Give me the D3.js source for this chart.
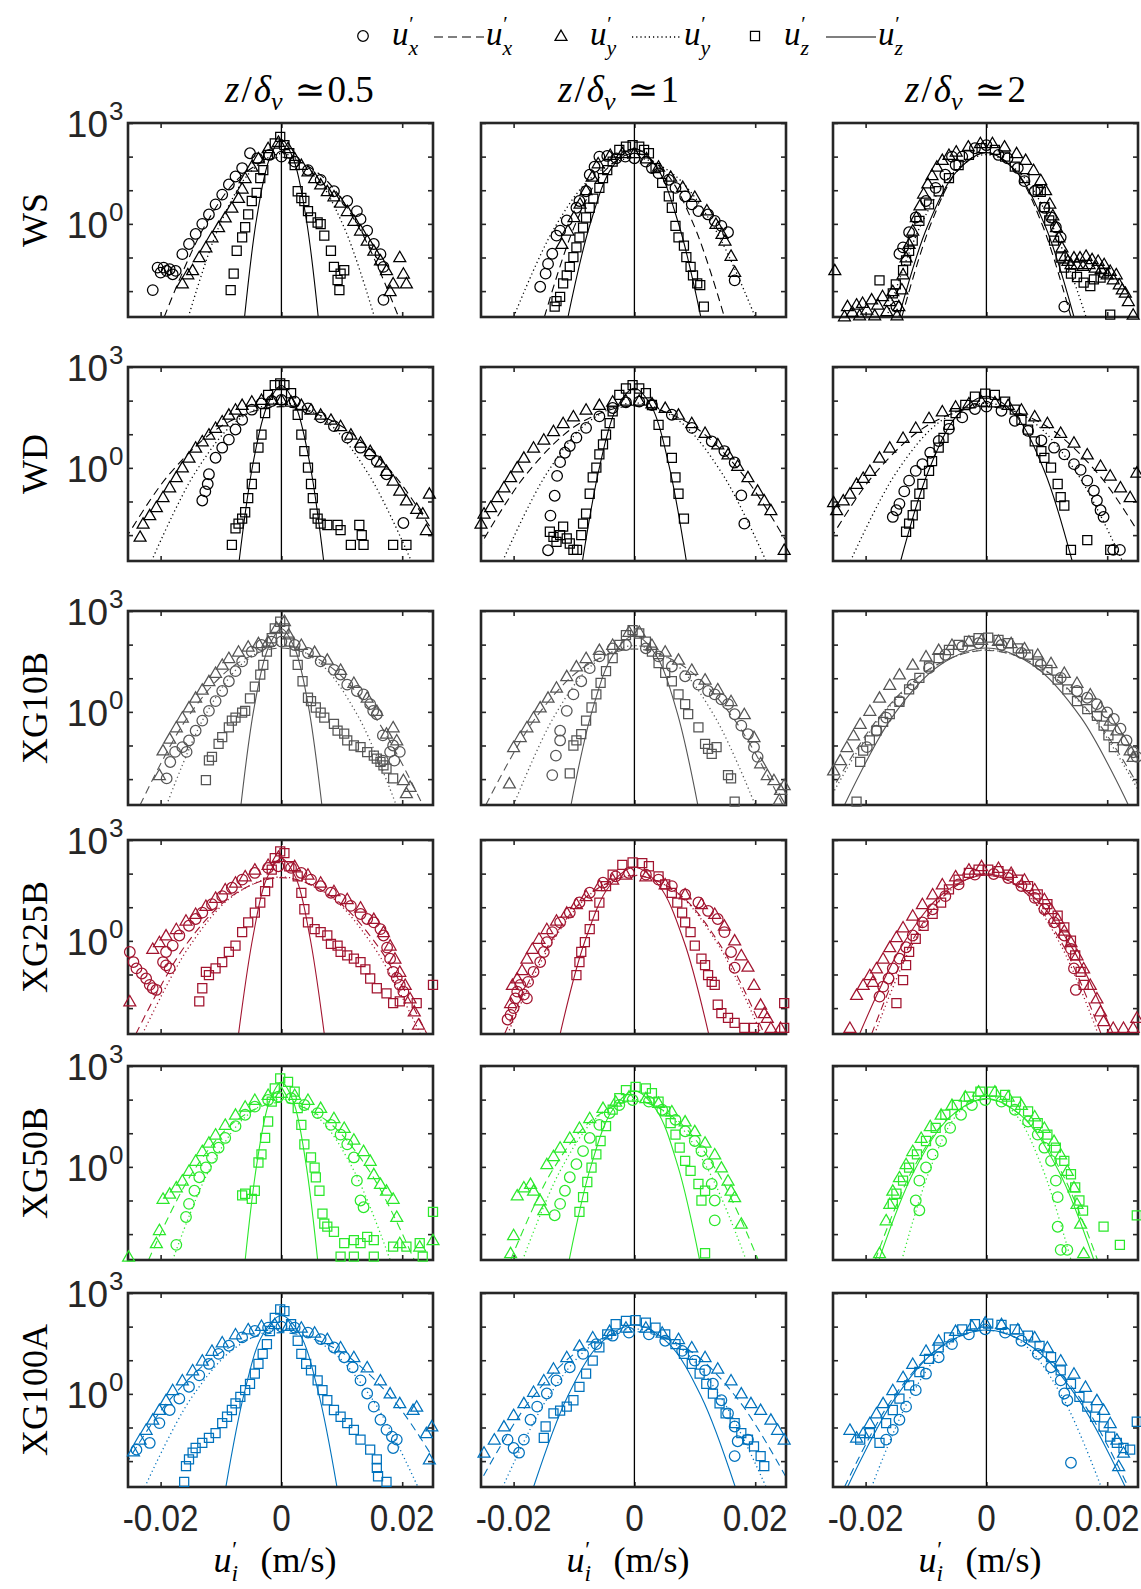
<!DOCTYPE html>
<html><head><meta charset="utf-8">
<script src="https://cdn.jsdelivr.net/npm/d3@7"></script>
<style>body{margin:0;background:#fff}svg{display:block}</style>
</head><body>
<svg id="c" width="1141" height="1589"></svg>
<script>
// ---------- categories / ticks ----------
const rowNames = ["WS","WD","XG10B","XG25B","XG50B","XG100A"];
const colValues = ["0.5","1","2"];
const rowColors = ["#000000","#000000","#555555","#A2142F","#2BE82B","#0072BD"];
const xDomain = [-0.0254, 0.0251];
const yDomainExp = [-2.77, 3];          // log10 of PDF limits
const xTicks = [-0.02, 0, 0.02];
const xTickLabels = ["-0.02","0","0.02"];
const yTickExp = [-2,-1,0,1,2,3];
const yLabelExp = [3,0];

// ---------- data: [u' (m/s), log10 PDF] ----------
// WS
const ws1_ux=[[-.0213,-1.97],[-.0205,-1.3],[-.02,-1.45],[-.0195,-1.3],[-.019,-1.4],[-.0185,-1.35],[-.018,-1.5],[-.0175,-1.4],[-.0164,-0.9],[-.0153,-0.6],[-.0142,-0.3],[-.0131,0],[-.012,0.28],[-.0109,0.58],[-.0098,0.87],[-.0087,1.17],[-.0076,1.41],[-.0065,1.66],[-.0052,2.1],[-.004,1.95],[-.002,2.05],[0,2.0],[.0022,1.85],[.0044,1.6],[.0065,1.31],[.0087,0.97],[.0109,0.68],[.0125,0.38],[.0131,0.14],[.0142,-0.2],[.0153,-0.6],[.0164,-0.9],[.0169,-1.28],[.0169,-2.26]];
const ws1_uy=[[-.0164,-1.77],[-.0155,-1.5],[-.0147,-1.38],[-.0136,-0.99],[-.0125,-0.7],[-.0115,-0.4],[-.0104,-0.1],[-.0093,0.19],[-.0082,0.48],[-.0071,0.77],[-.0065,1.05],[-.006,1.36],[-.0049,1.7],[-.0038,1.95],[-.0022,2.25],[-.0005,2.44],[.0011,2.25],[.0022,1.95],[.0033,1.75],[.0044,1.56],[.0055,1.36],[.0065,1.17],[.0076,0.97],[.0087,0.82],[.0098,0.63],[.0109,0.38],[.012,0.09],[.0131,-0.2],[.0142,-0.5],[.0153,-0.8],[.0164,-1.09],[.0174,-1.38],[.018,-2.0],[.0185,-1.77],[.0196,-0.99],[.0202,-1.48],[.0207,-1.77]];
const ws1_uz=[[-.0084,-1.97],[-.0079,-1.48],[-.0074,-0.8],[-.0065,-0.4],[-.006,-0.1],[-.0055,0.28],[-.0049,0.68],[-.0041,0.92],[-.0035,1.36],[-.003,1.6],[-.0022,2.05],[-.0011,2.39],[-.0002,2.59],[.0005,2.34],[.0013,2.1],[.0022,1.75],[.0027,0.97],[.0033,0.77],[.0038,0.68],[.0044,0.38],[.0049,0.19],[.006,0.04],[.0065,-0.01],[.0071,-0.35],[.0082,-0.8],[.0087,-1.28],[.0093,-1.67],[.0096,-1.97],[.0098,-1.48],[.0104,-1.38]];
const ws2_ux=[[-.0156,-1.87],[-.0147,-1.48],[-.0143,-1.19],[-.0136,-0.89],[-.0129,-0.35],[-.0123,-0.2],[-.0112,0.1],[-.0096,0.48],[-.0091,0.68],[-.008,0.97],[-.0074,1.46],[-.0066,1.7],[-.0058,2.0],[-.0045,2.02],[-.003,1.95],[-.0015,2.0],[0,1.95],[.0019,1.85],[.0029,1.66],[.004,1.5],[.0057,1.31],[.0068,1.07],[.0084,0.82],[.0095,0.58],[.0106,0.38],[.0122,0.28],[.0133,0.09],[.0144,-0.06],[.0155,-0.25],[.0166,-1.68]];
const ws2_uy=[[-.012,-0.6],[-.011,-0.2],[-.01,0.2],[-.009,0.6],[-.008,1.0],[-.007,1.4],[-.006,1.8],[-.004,2.05],[-.002,2.1],[0,2.1],[.002,1.95],[.004,1.7],[.006,1.4],[.008,1.1],[.01,0.8],[.012,0.4],[.0135,0],[.0145,-0.3],[.015,-0.5],[.016,-0.95],[.0166,-1.43]];
const ws2_uz=[[-.0132,-2.46],[-.0129,-2.3],[-.0123,-2.17],[-.0118,-1.77],[-.0112,-1.53],[-.0107,-1.28],[-.0101,-0.99],[-.0096,-0.7],[-.0091,-0.4],[-.0085,-0.11],[-.008,0.19],[-.0074,0.48],[-.0068,0.75],[-.0058,1.07],[-.0052,1.36],[-.0045,1.6],[-.0036,1.85],[-.0025,2.2],[-.0014,2.3],[-.0003,2.34],[.0008,2.3],[.0016,2.2],[.0024,2.1],[.0035,1.66],[.0046,1.22],[.0057,0.82],[.0062,0.48],[.0068,-0.06],[.0073,-0.4],[.0082,-0.65],[.0086,-0.99],[.0093,-1.28],[.0097,-1.53],[.0104,-1.77],[.0109,-1.82],[.0115,-2.46]];
const ws3_ux=[[-.0149,-2.46],[-.0144,-0.89],[-.0138,-0.7],[-.0128,-0.25],[-.0117,0.19],[-.01,0.68],[-.0084,1.07],[-.0068,1.46],[-.0057,2.0],[-.0051,1.75],[-.004,2.0],[-.0019,2.25],[0,2.34],[.002,2.05],[.0035,1.95],[.0052,1.66],[.0063,1.27],[.008,0.97],[.0096,0.48],[.0107,0.19],[.0115,-0.1],[.0123,-0.4],[.0129,-2.46]];
const ws3_uy=[[-.0251,-1.38],[-.0235,-2.75],[-.023,-2.45],[-.0222,-2.62],[-.0215,-2.4],[-.021,-2.72],[-.0205,-2.35],[-.0198,-2.55],[-.019,-2.25],[-.0185,-2.72],[-.018,-2.4],[-.0172,-2.15],[-.0165,-2.6],[-.016,-2.3],[-.0155,-2.0],[-.0148,-2.72],[-.0145,-2.45],[-.014,-1.95],[-.0138,-1.5],[-.0133,-1.0],[-.0128,-0.6],[-.0122,-0.2],[-.0116,0.2],[-.011,0.55],[-.0104,0.9],[-.0097,1.2],[-.009,1.45],[-.0082,1.7],[-.0073,1.9],[-.0062,2.05],[-.005,2.15],[-.003,2.3],[-.001,2.4],[.001,2.4],[.003,2.3],[.005,2.1],[.0065,1.9],[.0078,1.6],[.009,1.3],[.0098,1.0],[.0105,0.6],[.011,0.25],[.0116,-0.1],[.012,-0.4],[.0125,-0.7],[.013,-0.95],[.0135,-1.1],[.014,-1.2],[.0145,-1.0],[.015,-1.2],[.0155,-1.0],[.016,-1.25],[.0165,-0.95],[.017,-1.2],[.0175,-1.05],[.018,-1.3],[.0185,-1.1],[.019,-1.35],[.0195,-1.2],[.02,-1.5],[.0205,-1.4],[.021,-1.65],[.0215,-1.5],[.022,-1.8],[.0225,-1.95],[.023,-2.05],[.0235,-2.3],[.0243,-2.7]];
const ws3_uz=[[-.0177,-1.68],[-.0155,-2.07],[-.015,-1.8],[-.0138,-1.38],[-.0133,-1.09],[-.0128,-0.8],[-.0122,-0.5],[-.0111,0.09],[-.0095,0.58],[-.0079,0.97],[-.0062,1.36],[-.0046,1.75],[-.0029,2.05],[-.0008,2.25],[.0014,2.2],[.0031,2.0],[.0047,1.7],[.0063,1.36],[.0085,1.0],[.009,0.95],[.0096,0.5],[.0104,0.1],[.0112,-0.5],[.0123,-1.0],[.0129,-1.3],[.014,-1.48],[.015,-1.58],[.0161,-1.75],[.0172,-1.85],[.0178,-1.65],[.0189,-1.6],[.0195,-1.45],[.0205,-2.7]];
// WD
const wd1_ux=[[-.0131,-0.97],[-.0126,-0.7],[-.0122,-0.48],[-.012,-0.19],[-.0109,0.3],[-.0098,0.6],[-.0087,0.84],[-.0076,1.14],[-.0065,1.43],[-.0049,1.73],[-.0033,1.92],[-.0016,1.99],[0,2.02],[.0022,1.97],[.0044,1.77],[.0065,1.5],[.0087,1.24],[.0109,0.9],[.0131,0.6],[.0147,0.4],[.0158,0.2],[.0174,-0.19],[.0202,-1.64]];
const wd1_uy=[[-.0234,-2.05],[-.0229,-1.66],[-.0218,-1.41],[-.0207,-1.17],[-.0196,-0.87],[-.0185,-0.58],[-.0174,-0.28],[-.0164,0.01],[-.0153,0.3],[-.0142,0.6],[-.0131,0.79],[-.012,0.99],[-.0109,1.19],[-.0098,1.38],[-.0087,1.58],[-.0076,1.73],[-.0065,1.87],[-.0049,1.97],[-.0033,2.02],[-.0016,2.03],[0,2.02],[.0016,1.97],[.0033,1.87],[.0049,1.73],[.0065,1.58],[.0082,1.43],[.0098,1.24],[.0115,0.99],[.0131,0.75],[.0147,0.5],[.0164,0.16],[.0174,-0.09],[.0185,-0.38],[.0196,-0.68],[.0207,-0.97],[.0224,-1.22],[.0234,-1.36],[.024,-1.85],[.0245,-0.77]];
const wd1_uz=[[-.0082,-2.29],[-.0076,-1.8],[-.0071,-1.66],[-.0065,-1.51],[-.006,-1.32],[-.0055,-0.9],[-.0049,-0.48],[-.0044,0.01],[-.0038,0.6],[-.0033,0.99],[-.0027,1.63],[-.0022,2.17],[-.0011,2.46],[-.0002,2.51],[.0005,2.46],[.0016,2.22],[.0027,1.58],[.0033,0.99],[.0038,0.5],[.0044,0.01],[.0049,-0.48],[.0052,-0.9],[.0055,-1.36],[.006,-1.51],[.0065,-1.66],[.0076,-1.7],[.0093,-1.7],[.0098,-1.85],[.0115,-2.29],[.0129,-1.7],[.0133,-2.0],[.0136,-2.29],[.0185,-2.29],[.0207,-2.29]];
const wd2_ux=[[-.0143,-2.45],[-.0139,-1.42],[-.0132,-0.83],[-.0128,-0.24],[-.0123,0.17],[-.0115,0.45],[-.0107,0.65],[-.0096,0.9],[-.008,1.19],[-.0058,1.53],[-.0036,1.78],[-.0014,1.95],[.0008,1.97],[.0029,1.87],[.0062,1.58],[.0095,1.19],[.0128,0.79],[.0149,0.5],[.0166,0.16],[.0177,-0.82],[.0182,-1.66]];
const wd2_uy=[[-.0254,-1.66],[-.0249,-1.36],[-.0238,-1.17],[-.0227,-0.87],[-.0216,-0.58],[-.0205,-0.28],[-.0194,0.01],[-.0183,0.3],[-.0167,0.6],[-.015,0.84],[-.0134,1.09],[-.0118,1.33],[-.0101,1.53],[-.008,1.73],[-.0058,1.87],[-.0036,1.97],[-.0014,2.0],[.0008,2.0],[.0029,1.92],[.0051,1.78],[.0073,1.58],[.0095,1.33],[.0117,1.04],[.0138,0.7],[.0155,0.4],[.0171,0.06],[.0188,-0.28],[.0204,-0.68],[.0215,-0.97],[.0226,-1.26],[.0248,-2.44]];
const wd2_uz=[[-.014,-1.9],[-.0134,-2.05],[-.0129,-2.2],[-.0123,-2.0],[-.0118,-1.75],[-.0112,-2.1],[-.0107,-2.25],[-.0101,-2.44],[-.0095,-2.44],[-.0088,-2.0],[-.0085,-1.66],[-.008,-1.36],[-.0074,-0.77],[-.0069,-0.28],[-.0063,0.01],[-.0058,0.4],[-.0052,0.7],[-.0047,0.99],[-.0041,1.33],[-.0036,1.68],[-.0025,2.17],[-.0014,2.36],[-.0003,2.46],[.0008,2.36],[.0019,2.22],[.0029,1.87],[.004,1.28],[.0051,0.79],[.0062,0.3],[.0068,-0.28],[.0073,-0.77],[.0082,-1.51]];
const wd3_ux=[[-.0155,-1.46],[-.0149,-1.26],[-.0144,-1.07],[-.0136,-0.7],[-.0128,-0.38],[-.0117,-0.09],[-.0106,0.11],[-.0093,0.45],[-.0079,0.8],[-.0062,1.16],[-.004,1.5],[-.0019,1.75],[0,1.82],[.0025,1.7],[.0047,1.4],[.0069,1.1],[.0091,0.82],[.0112,0.6],[.0129,0.4],[.0145,0.11],[.0156,-0.06],[.0167,-0.38],[.0178,-0.68],[.0183,-0.97],[.0189,-1.26],[.0194,-1.46],[.021,-2.44],[.0221,-2.44]];
const wd3_uy=[[-.0253,-1.02],[-.0248,-1.26],[-.0237,-0.97],[-.0226,-0.77],[-.0215,-0.48],[-.0204,-0.3],[-.0193,-0.09],[-.0177,0.3],[-.016,0.6],[-.0138,0.89],[-.0117,1.19],[-.0095,1.48],[-.0073,1.68],[-.0051,1.82],[-.0029,1.92],[-.0008,1.97],[.0014,1.95],[.0036,1.87],[.0058,1.73],[.008,1.53],[.0101,1.33],[.0123,1.04],[.0145,0.75],[.0167,0.4],[.0189,0.06],[.0205,-0.23],[.0222,-0.58],[.0238,-0.87],[.0249,-0.14]];
const wd3_uz=[[-.0133,-1.9],[-.0128,-1.66],[-.0122,-1.41],[-.0117,-1.12],[-.0111,-0.77],[-.0106,-0.48],[-.0095,-0.09],[-.009,0.2],[-.0079,0.6],[-.0071,0.89],[-.0062,1.28],[-.0051,1.63],[-.0035,1.87],[-.0019,2.12],[-.0002,2.21],[.0014,2.17],[.0031,1.97],[.0047,1.73],[.0058,1.43],[.0069,1.14],[.008,0.79],[.0091,0.5],[.0096,0.3],[.0107,0.01],[.0118,-0.48],[.0123,-0.87],[.0129,-1.12],[.014,-2.44],[.0167,-2.15],[.0205,-2.44]];
// XG10B
const g10_1_ux=[[-.019,-1.98],[-.0184,-1.49],[-.0176,-1.19],[-.0164,-1.05],[-.0157,-1.19],[-.0153,-0.85],[-.0142,-0.56],[-.0131,-0.26],[-.012,0.03],[-.0109,0.32],[-.0098,0.62],[-.0087,0.91],[-.0076,1.21],[-.0065,1.5],[-.0049,1.79],[-.0033,1.99],[-.0016,2.09],[0,2.09],[.0022,1.99],[.0044,1.75],[.0065,1.5],[.0087,1.25],[.0098,1.11],[.0109,0.81],[.0125,0.62],[.0136,0.52],[.0147,0.23],[.0152,0.03],[.0158,-0.07],[.0168,-0.7],[.0168,-1.45],[.018,-1.19],[.0185,-1.0],[.0187,-1.45],[.0196,-1.19]];
const g10_1_uy=[[-.0202,-1.88],[-.0196,-1.15],[-.0185,-0.8],[-.0174,-0.46],[-.0164,-0.17],[-.0153,0.13],[-.0142,0.42],[-.0131,0.66],[-.012,0.91],[-.0109,1.16],[-.0098,1.4],[-.0087,1.6],[-.0071,1.79],[-.0055,1.94],[-.0038,2.04],[-.0022,2.09],[-.0008,2.5],[.0005,2.7],[.0012,2.3],[.0033,1.99],[.0055,1.78],[.0076,1.55],[.0098,1.25],[.012,0.86],[.0142,0.42],[.0158,0.03],[.0174,-0.65],[.0185,-0.46],[.0191,-0.85],[.0202,-2.03],[.0207,-2.42],[.0213,-2.23]];
const g10_1_uz=[[-.0125,-2.03],[-.012,-1.44],[-.0115,-1.34],[-.0104,-0.95],[-.0098,-0.75],[-.0087,-0.46],[-.0082,-0.26],[-.0076,-0.17],[-.0065,-0.02],[-.006,0.03],[-.0052,0.4],[-.0044,0.75],[-.0035,1.11],[-.003,1.4],[-.0024,1.79],[-.0016,2.19],[-.0011,2.48],[-.0002,2.68],[.0005,2.48],[.0013,2.09],[.0022,1.79],[.0027,1.4],[.0035,0.91],[.0044,0.42],[.0049,0.32],[.0057,0.13],[.0065,-0.02],[.0071,-0.17],[.0087,-0.36],[.0093,-0.56],[.0104,-0.65],[.0109,-0.85],[.012,-1.0],[.0131,-1.05],[.0142,-1.2],[.0153,-1.3],[.0158,-1.39],[.0164,-1.49],[.0169,-1.59],[.0174,-1.69],[.0185,-1.98]];
const g10_2_ux=[[-.0136,-1.88],[-.013,-1.3],[-.0123,-0.85],[-.0123,-0.56],[-.0112,0.03],[-.0101,0.52],[-.0088,0.91],[-.0074,1.3],[-.0058,1.65],[-.0036,1.89],[-.0014,1.99],[.0019,1.89],[.004,1.65],[.0062,1.35],[.0084,1.06],[.0106,0.81],[.0122,0.62],[.0133,0.52],[.0144,0.37],[.0155,0.23],[.0166,-0.07],[.0177,-0.41],[.0188,-0.66],[.0198,-1.05],[.0204,-1.34]];
const g10_2_uy=[[-.0207,-2.13],[-.02,-1.05],[-.0189,-0.75],[-.0178,-0.46],[-.0167,-0.17],[-.0156,0.13],[-.0143,0.42],[-.0129,0.72],[-.0112,1.06],[-.0096,1.35],[-.008,1.6],[-.0058,1.84],[-.0036,1.99],[-.0009,2.38],[.0008,2.38],[.0029,1.99],[.0051,1.79],[.0073,1.55],[.0095,1.25],[.0117,0.96],[.0138,0.67],[.016,0.32],[.0182,-0.07],[.0198,-0.75],[.0209,-1.53],[.022,-1.88],[.0231,-2.03],[.024,-2.62],[.0242,-2.32],[.0248,-2.18]];
const g10_2_uz=[[-.0107,-1.83],[-.0101,-1.0],[-.0096,-0.85],[-.0088,-0.66],[-.008,-0.26],[-.0071,0.13],[-.0063,0.52],[-.0056,0.86],[-.0047,1.21],[-.0036,1.6],[-.0025,1.99],[-.0014,2.28],[-.0003,2.43],[.0008,2.33],[.0019,2.09],[.0029,1.79],[.004,1.45],[.0051,1.16],[.0062,0.91],[.0073,0.52],[.0084,0.23],[.0089,-0.07],[.0106,-0.46],[.0117,-0.95],[.0122,-1.1],[.0128,-1.25],[.0136,-1.05],[.0155,-1.88],[.016,-1.98],[.0166,-2.67]];
const g10_3_ux=[[-.0198,-1.05],[-.0182,-0.56],[-.0166,-0.17],[-.0144,0.32],[-.0122,0.81],[-.0095,1.3],[-.0068,1.7],[-.004,1.94],[-.0013,2.04],[.0025,1.99],[.0058,1.75],[.009,1.4],[.0123,1.01],[.015,0.62],[.0167,0.42],[.0183,0.23],[.02,-0.02],[.0211,-0.21],[.0222,-0.5],[.0232,-0.85],[.0243,-1.2],[.0249,-1.34]];
const g10_3_uy=[[-.0253,-1.74],[-.0242,-1.44],[-.0231,-1.05],[-.022,-0.7],[-.0209,-0.36],[-.0193,0.03],[-.0177,0.42],[-.016,0.8],[-.0144,1.11],[-.0122,1.4],[-.01,1.65],[-.0079,1.84],[-.0057,1.99],[-.0029,2.09],[-.0008,2.14],[.002,2.11],[.0041,2.04],[.0063,1.89],[.0085,1.7],[.0107,1.45],[.0129,1.16],[.015,0.86],[.0172,0.52],[.0189,0.13],[.0205,-0.26],[.0216,-0.55],[.0227,-0.85],[.0238,-1.15],[.0243,-1.34]];
const g10_3_uz=[[-.0215,-2.67],[-.0209,-1.49],[-.0204,-1.15],[-.0193,-0.85],[-.0182,-0.56],[-.0171,-0.3],[-.016,-0.07],[-.0144,0.3],[-.0128,0.67],[-.0111,1.01],[-.0095,1.35],[-.0079,1.6],[-.0062,1.84],[-.0046,1.99],[-.0029,2.11],[-.0013,2.19],[.0003,2.21],[.002,2.14],[.0036,2.04],[.0052,1.89],[.0069,1.7],[.0085,1.5],[.0101,1.25],[.0118,0.96],[.0134,0.67],[.015,0.32],[.0167,0.08],[.0183,-0.12],[.0194,-0.41],[.0202,-0.7],[.0211,-1.05]];
// XG25B
const g25_1_ux=[[-.0251,-0.33],[-.0245,-0.63],[-.024,-0.82],[-.0231,-0.97],[-.0224,-1.12],[-.0218,-1.31],[-.0213,-1.41],[-.0207,-1.46],[-.0196,-0.63],[-.0191,-0.73],[-.0185,-0.82],[-.0191,-0.33],[-.018,-0.14],[-.0169,0.16],[-.0153,0.45],[-.0142,0.65],[-.0131,0.84],[-.0115,1.09],[-.0098,1.33],[-.0082,1.58],[-.0065,1.82],[-.0044,2.02],[-.0022,2.17],[-.0005,2.22],[.0016,2.17],[.0033,2.02],[.0049,1.82],[.0065,1.63],[.0082,1.43],[.0098,1.24],[.0115,1.04],[.0131,0.8],[.0142,0.65],[.0153,0.55],[.0164,0.35],[.0169,0.16],[.0175,-0.2],[.018,-0.53],[.0185,-0.92],[.0191,-1.1],[.0196,-1.31],[.0202,-1.51]];
const g25_1_uy=[[-.0251,-1.8],[-.0213,-0.24],[-.0202,-0.04],[-.0191,0.16],[-.0174,0.35],[-.0158,0.6],[-.0142,0.8],[-.0125,1.04],[-.0109,1.28],[-.0093,1.53],[-.0076,1.73],[-.006,1.92],[-.0044,2.12],[-.0022,2.26],[-.0005,2.5],[.0022,2.22],[.0044,1.97],[.0065,1.73],[.0087,1.48],[.0109,1.24],[.0131,0.99],[.0153,0.65],[.0169,0.26],[.018,-0.14],[.0188,-0.53],[.0196,-0.92],[.0205,-1.31],[.0213,-1.71],[.022,-2.1],[.0227,-2.49]];
const g25_1_uz=[[-.0136,-1.8],[-.0131,-1.41],[-.0125,-0.92],[-.012,-1.02],[-.0109,-0.82],[-.0098,-0.63],[-.0087,-0.33],[-.0076,-0.14],[-.0065,0.26],[-.0055,0.55],[-.0044,0.84],[-.0035,1.14],[-.0027,1.48],[-.0022,1.73],[-.0016,2.12],[-.0011,2.46],[-.0002,2.66],[.0005,2.61],[.0013,2.22],[.0027,1.92],[.0033,1.43],[.0038,0.94],[.0044,0.55],[.0055,0.35],[.0065,0.26],[.0076,0.16],[.0082,-0.09],[.0093,-0.14],[.0098,-0.33],[.0109,-0.43],[.012,-0.53],[.0131,-0.63],[.0139,-0.85],[.0147,-1.12],[.0158,-1.41],[.0174,-1.56],[.0185,-1.85],[.0196,-1.8],[.0224,-1.85],[.0251,-1.31]];
const g25_2_ux=[[-.021,-2.34],[-.0205,-2.2],[-.02,-2.0],[-.0197,-1.71],[-.0194,-1.51],[-.0189,-1.31],[-.0183,-1.6],[-.0178,-1.71],[-.0176,-1.22],[-.0167,-0.92],[-.0156,-0.63],[-.015,-0.33],[-.0145,-0.04],[-.0136,0.26],[-.0123,0.55],[-.0107,0.84],[-.0091,1.14],[-.0074,1.43],[-.0052,1.73],[-.0031,1.92],[-.0009,2.02],[.0019,1.97],[.004,1.82],[.0062,1.63],[.0084,1.38],[.0106,1.14],[.0122,0.89],[.0138,0.65],[.0149,0.26],[.016,-0.33],[.0166,-0.8]];
const g25_2_uy=[[-.0205,-1.85],[-.0202,-1.31],[-.0194,-1.12],[-.0186,-0.87],[-.0178,-0.53],[-.0169,-0.24],[-.0158,0.06],[-.0145,0.35],[-.0129,0.6],[-.0112,0.84],[-.0096,1.09],[-.008,1.33],[-.0058,1.63],[-.0036,1.82],[-.0014,1.97],[.0019,1.92],[.0051,1.68],[.0084,1.38],[.0111,1.09],[.0133,0.8],[.0149,0.45],[.0166,0.01],[.0177,-0.43],[.0188,-0.77],[.0198,-1.31],[.0209,-1.9],[.0215,-2.15],[.022,-2.29],[.0226,-2.59],[.0242,-2.59]];
const g25_2_uz=[[-.0096,-1.02],[-.0091,-0.63],[-.0088,-0.33],[-.0082,-0.04],[-.0074,0.35],[-.0067,0.75],[-.0058,1.14],[-.0047,1.63],[-.0036,1.97],[-.002,2.26],[-.0003,2.33],[.0013,2.31],[.0024,2.22],[.004,1.92],[.0051,1.68],[.0062,1.43],[.0071,1.14],[.0079,0.84],[.0084,0.55],[.0093,0.26],[.01,-0.14],[.0111,-0.53],[.0117,-0.72],[.0122,-1.02],[.0128,-1.22],[.0133,-1.31],[.0138,-1.9],[.0144,-2.15],[.0155,-2.29],[.0166,-2.44],[.0182,-2.59],[.0198,-2.59],[.0248,-1.85],[.0248,-2.59]];
const g25_3_ux=[[-.0177,-1.66],[-.0171,-1.36],[-.0162,-1.12],[-.0155,-0.82],[-.0144,-0.53],[-.0133,-0.19],[-.0122,0.16],[-.0106,0.55],[-.0089,0.94],[-.0068,1.33],[-.0046,1.68],[-.0019,1.97],[.0012,1.99],[.0036,1.87],[.0058,1.63],[.008,1.28],[.0096,0.94],[.0112,0.55],[.0129,0.16],[.014,-0.24],[.0145,-0.82],[.0148,-1.46]];
const g25_3_uy=[[-.0226,-2.59],[-.0215,-1.61],[-.0204,-1.31],[-.0193,-1.02],[-.0188,-1.22],[-.0182,-0.82],[-.0171,-0.53],[-.016,-0.19],[-.0149,0.11],[-.0138,0.4],[-.0122,0.75],[-.0106,1.09],[-.0089,1.38],[-.0073,1.68],[-.0051,1.92],[-.0029,2.12],[-.0008,2.22],[.002,2.17],[.0041,2.02],[.0063,1.82],[.008,1.53],[.0096,1.24],[.0107,0.94],[.0118,0.65],[.0129,0.3],[.014,-0.04],[.015,-0.43],[.0161,-0.82],[.0172,-1.31],[.0183,-1.71],[.0189,-2.1],[.0194,-2.39],[.021,-2.59],[.0227,-2.59],[.0243,-2.59],[.0249,-2.29]];
const g25_3_uz=[[-.0149,-1.85],[-.0138,-1.17],[-.0133,-0.72],[-.0128,-0.33],[-.0117,0.06],[-.0104,0.45],[-.0089,0.8],[-.0075,1.14],[-.0062,1.53],[-.0046,1.82],[-.0029,2.02],[-.0013,2.12],[.0003,2.12],[.002,2.07],[.0036,1.97],[.0052,1.82],[.0069,1.63],[.0085,1.38],[.0101,1.09],[.0118,0.75],[.0129,0.4],[.014,0.01],[.0147,-0.43],[.0156,-0.92],[.0161,-1.31]];
// XG50B
const g50_1_ux=[[-.0174,-2.32],[-.0158,-1.49],[-.0153,-1.1],[-.0144,-0.71],[-.0136,-0.31],[-.0125,-0.02],[-.0115,0.27],[-.0104,0.57],[-.0093,0.86],[-.0076,1.21],[-.006,1.55],[-.0044,1.79],[-.0022,1.99],[-.0005,2.09],[.0016,2.04],[.0038,1.84],[.006,1.6],[.0082,1.25],[.0098,0.96],[.0109,0.67],[.012,0.28],[.0125,-0.41],[.0131,-1.0],[.0136,-1.2]];
const g50_1_uy=[[-.0253,-2.67],[-.0207,-2.27],[-.0202,-1.88],[-.0196,-0.95],[-.0185,-0.8],[-.0174,-0.61],[-.0164,-0.41],[-.0153,-0.12],[-.0142,0.18],[-.0131,0.47],[-.012,0.72],[-.0109,0.96],[-.0093,1.25],[-.0076,1.55],[-.006,1.79],[-.0044,1.99],[-.0022,2.14],[0,2.2],[.0022,2.14],[.0044,1.99],[.0065,1.75],[.0087,1.45],[.0104,1.16],[.012,0.81],[.0136,0.47],[.0147,0.18],[.0153,-0.22],[.0164,-0.51],[.0174,-0.71],[.0185,-0.95],[.0191,-1.49],[.0196,-2.27],[.0229,-2.37],[.0251,-2.18]];
const g50_1_uz=[[-.0065,-0.85],[-.006,-0.8],[-.0049,-0.95],[-.0044,-0.71],[-.0038,0.13],[-.0033,0.37],[-.0027,0.86],[-.0022,1.35],[-.0016,1.94],[-.0011,2.33],[-.0002,2.63],[.0011,2.53],[.0022,2.24],[.0027,1.75],[.0033,1.25],[.0038,0.67],[.0049,0.28],[.0055,-0.02],[.0057,-0.31],[.0063,-0.71],[.0068,-1.39],[.0071,-1.69],[.0076,-1.78],[.0087,-1.93],[.0098,-2.67],[.0104,-2.27],[.012,-2.18],[.012,-2.67],[.0131,-2.27],[.0142,-2.08],[.0153,-2.18],[.0153,-2.67],[.0185,-2.37],[.0207,-2.37],[.0229,-2.27],[.0234,-2.67],[.0251,-1.34]];
const g50_2_ux=[[-.0132,-1.44],[-.0123,-1.1],[-.0115,-0.71],[-.0107,-0.31],[-.0096,0.08],[-.0085,0.47],[-.0074,0.86],[-.0058,1.25],[-.0041,1.6],[-.0025,1.84],[-.0003,1.99],[.0024,1.94],[.0046,1.7],[.0068,1.4],[.0084,1.06],[.01,0.77],[.0111,0.47],[.0122,0.08],[.0128,-0.51],[.0133,-1.0],[.0133,-1.59]];
const g50_2_uy=[[-.0205,-2.57],[-.02,-2.03],[-.0194,-0.85],[-.0183,-0.61],[-.0172,-0.51],[-.0167,-0.71],[-.0156,-1.0],[-.015,-1.29],[-.0145,0.08],[-.0134,0.32],[-.0123,0.57],[-.0107,0.86],[-.0091,1.16],[-.0074,1.45],[-.0052,1.75],[-.0031,1.94],[-.0009,2.09],[.0019,2.04],[.004,1.9],[.0062,1.65],[.0084,1.35],[.01,1.06],[.0117,0.72],[.0133,0.37],[.0144,-0.02],[.0155,-0.41],[.016,-0.71],[.0166,-0.9],[.0177,-1.69]];
const g50_2_uz=[[-.0091,-1.34],[-.0085,-0.9],[-.0078,-0.45],[-.0071,-0.02],[-.0063,0.37],[-.0056,0.77],[-.0047,1.21],[-.0036,1.7],[-.0025,2.04],[-.0014,2.28],[.0002,2.38],[.0019,2.33],[.0029,2.19],[.004,1.94],[.0051,1.65],[.006,1.3],[.0068,0.96],[.0075,0.57],[.0084,0.18],[.0093,-0.12],[.0106,-0.51],[.0111,-1.0],[.0117,-0.71],[.0117,-2.57]];
const g50_3_ux=[[-.0111,-1.29],[-.0117,-1.0],[-.0111,-0.41],[-.01,-0.02],[-.0089,0.37],[-.0075,0.77],[-.006,1.16],[-.0042,1.55],[-.0024,1.84],[-.0002,1.99],[.0025,1.94],[.0047,1.7],[.0069,1.35],[.0085,0.96],[.0096,0.57],[.0107,0.18],[.0115,-0.41],[.0118,-0.9],[.0118,-1.78],[.0123,-2.47],[.0134,-2.47]];
const g50_3_uy=[[-.0177,-2.57],[-.0166,-1.59],[-.016,-1.1],[-.0155,-0.71],[-.0144,-0.31],[-.0133,0.08],[-.0122,0.47],[-.0108,0.86],[-.0093,1.21],[-.0075,1.55],[-.0057,1.84],[-.0035,2.09],[-.0013,2.24],[.0014,2.24],[.0036,2.09],[.0058,1.84],[.008,1.5],[.0096,1.16],[.0112,0.77],[.0123,0.37],[.0134,-0.12],[.0145,-0.61],[.015,-1.1],[.0156,-1.69],[.0161,-2.57]];
const g50_3_uz=[[-.0155,-1.1],[-.0149,-0.8],[-.0138,-0.41],[-.0128,-0.02],[-.0115,0.37],[-.01,0.77],[-.0084,1.16],[-.0068,1.55],[-.0049,1.84],[-.0029,2.09],[-.001,2.24],[.0009,2.24],[.0031,2.14],[.0049,1.94],[.0069,1.65],[.0085,1.3],[.0101,0.96],[.0115,0.57],[.0129,0.18],[.014,-0.22],[.0147,-0.61],[.0154,-1.0],[.016,-1.3],[.0194,-1.78],[.0221,-2.32],[.0249,-1.44]];
// XG100A
const g100_1_ux=[[-.024,-1.66],[-.0218,-1.46],[-.0202,-0.87],[-.0185,-0.48],[-.0169,-0.14],[-.0153,0.21],[-.0136,0.55],[-.012,0.89],[-.0104,1.19],[-.0087,1.43],[-.0065,1.68],[-.0044,1.87],[-.0022,1.97],[0,2.0],[.0022,1.97],[.0044,1.82],[.0065,1.63],[.0087,1.38],[.0104,1.09],[.0118,0.79],[.0131,0.4],[.0142,0.01],[.0153,-0.38],[.0164,-0.77],[.0174,-1.07],[.0183,-1.27],[.0185,-1.61],[.0191,-1.36]];
const g100_1_uy=[[-.0245,-1.71],[-.0234,-1.36],[-.0224,-1.07],[-.0213,-0.77],[-.0202,-0.48],[-.0191,-0.19],[-.018,0.11],[-.0164,0.4],[-.0147,0.7],[-.0131,0.99],[-.0115,1.28],[-.0098,1.53],[-.0076,1.77],[-.0055,1.92],[-.0033,2.02],[-.0011,2.07],[.0011,2.02],[.0033,1.97],[.0055,1.82],[.0076,1.63],[.0098,1.38],[.012,1.09],[.0142,0.79],[.0164,0.4],[.018,0.01],[.0196,-0.28],[.0218,-0.48],[.0224,-0.38],[.024,-1.17],[.0245,-1.95],[.0249,-0.97]];
const g100_1_uz=[[-.0161,-2.62],[-.0158,-2.15],[-.0153,-1.95],[-.0147,-1.75],[-.0142,-1.61],[-.0131,-1.46],[-.012,-1.31],[-.0109,-1.17],[-.0098,-0.87],[-.009,-0.68],[-.0082,-0.48],[-.0076,-0.28],[-.0068,-0.09],[-.006,0.11],[-.0052,0.3],[-.0044,0.6],[-.0038,0.89],[-.0031,1.19],[-.0024,1.48],[-.0019,1.87],[-.0011,2.26],[-.0002,2.51],[.0005,2.46],[.0016,2.07],[.0027,1.58],[.0033,1.19],[.0041,0.89],[.0049,0.7],[.006,0.4],[.0068,0.11],[.0076,-0.19],[.0087,-0.48],[.0098,-0.68],[.0109,-0.87],[.012,-1.07],[.0131,-1.36],[.0147,-1.66],[.0158,-1.95],[.0158,-2.2],[.016,-2.45],[.0174,-2.62]];
const g100_2_ux=[[-.021,-1.36],[-.02,-1.61],[-.0191,-1.75],[-.0183,-1.36],[-.0172,-0.77],[-.0161,-0.38],[-.0145,0.01],[-.0129,0.4],[-.0107,0.79],[-.0085,1.19],[-.0063,1.48],[-.0036,1.73],[-.0009,1.82],[.0024,1.77],[.0051,1.58],[.0079,1.28],[.01,0.99],[.0117,0.7],[.013,0.3],[.0144,-0.19],[.0155,-0.58],[.0166,-0.97],[.0171,-1.41],[.0166,-1.85],[.0188,-1.36]];
const g100_2_uy=[[-.0249,-1.75],[-.0232,-1.36],[-.0216,-0.97],[-.02,-0.63],[-.0183,-0.28],[-.0167,0.06],[-.015,0.4],[-.0134,0.75],[-.0112,1.09],[-.0091,1.43],[-.0069,1.68],[-.0041,1.87],[-.0014,1.97],[.0019,1.97],[.0046,1.82],[.0073,1.63],[.0095,1.38],[.0117,1.09],[.0138,0.75],[.016,0.4],[.0177,0.01],[.0193,-0.28],[.0209,-0.48],[.0226,-0.77],[.0237,-1.07],[.0248,-1.36]];
const g100_2_uz=[[-.015,-1.31],[-.0147,-0.97],[-.0134,-0.58],[-.0123,-0.5],[-.0112,-0.38],[-.0101,-0.19],[-.0091,0.21],[-.008,0.6],[-.0069,0.99],[-.0058,1.38],[-.0045,1.77],[-.0031,2.07],[-.0014,2.17],[.0002,2.19],[.0019,2.12],[.0035,1.97],[.0051,1.77],[.0068,1.48],[.0082,1.19],[.0095,0.89],[.0108,0.6],[.0119,0.3],[.013,0.01],[.0141,-0.28],[.0151,-0.58],[.0166,-0.87],[.0177,-1.17],[.0188,-1.36],[.0198,-1.56],[.0209,-1.85],[.0215,-2.15]];
const g100_3_ux=[[-.0166,-1.36],[-.0155,-1.07],[-.0144,-0.77],[-.0133,-0.38],[-.0117,0.11],[-.01,0.6],[-.0079,1.09],[-.0057,1.48],[-.0029,1.77],[-.0002,1.92],[.0031,1.82],[.0058,1.58],[.0085,1.19],[.0107,0.79],[.0123,0.4],[.0129,0.01],[.0134,-0.19],[.014,-2.05]];
const g100_3_uy=[[-.0226,-1.07],[-.0215,-1.3],[-.0204,-1.17],[-.0193,-0.87],[-.0182,-0.58],[-.0171,-0.28],[-.0155,0.11],[-.0138,0.5],[-.0122,0.89],[-.01,1.28],[-.0079,1.58],[-.0051,1.87],[-.0024,2.02],[-.0002,2.12],[.0025,2.07],[.0052,1.92],[.008,1.68],[.0101,1.38],[.0123,0.99],[.0145,0.6],[.0164,0.21],[.0183,-0.19],[.0194,-0.48],[.0205,-0.87],[.0216,-1.36],[.0227,-1.75],[.0219,-2.15]];
const g100_3_uz=[[-.0209,-1.36],[-.0193,-1.17],[-.0177,-1.46],[-.0166,-0.87],[-.0155,-0.48],[-.0144,-0.14],[-.0128,0.25],[-.0111,0.65],[-.0095,1.04],[-.0079,1.38],[-.0062,1.68],[-.004,1.92],[-.0019,2.07],[.0003,2.09],[.0025,2.05],[.0047,1.92],[.0069,1.73],[.0088,1.43],[.0107,1.09],[.0123,0.7],[.014,0.3],[.0154,-0.09],[.0167,-0.38],[.018,-0.68],[.0194,-0.97],[.0205,-1.27],[.0216,-1.46],[.0227,-1.61],[.0238,-1.66],[.0249,-0.83]];

// ---------- Gaussian reference curves: [u', log10 PDF] ----------
const ws1_fx=[[-.0194,-2.77],[-.0129,-.13],[-.0065,1.45],[0,1.98],[.0065,1.45],[.0129,-.13],[.0194,-2.77]];
const ws1_fy=[[-.0154,-2.77],[-.0103,-.07],[-.0051,1.55],[0,2.09],[.0051,1.55],[.0103,-.07],[.0154,-2.77]];
const ws1_fz=[[-.0061,-2.77],[-.0041,.16],[-.002,1.92],[0,2.51],[.002,1.92],[.0041,.16],[.0061,-2.77]];
const ws2_fx=[[-.0149,-2.77],[-.0099,-.06],[-.005,1.56],[0,2.10],[.005,1.56],[.0099,-.06],[.0149,-2.77]];
const ws2_fy=[[-.020,-2.77],[-.0133,-.14],[-.0067,1.44],[0,1.97],[.0067,1.44],[.0133,-.14],[.020,-2.77]];
const ws2_fz=[[-.011,-2.77],[-.0073,.01],[-.0037,1.68],[0,2.24],[.0037,1.68],[.0073,.01],[.011,-2.77]];
const ws3_fx=[[-.014,-2.77],[-.0093,-.05],[-.0047,1.59],[0,2.13],[.0047,1.59],[.0093,-.05],[.014,-2.77]];
const ws3_fy=[[-.0165,-2.77],[-.011,-.09],[-.0055,1.52],[0,2.06],[.0055,1.52],[.011,-.09],[.0165,-2.77]];
const ws3_fz=[[-.0145,-2.77],[-.0097,-.05],[-.0048,1.58],[0,2.12],[.0048,1.58],[.0097,-.05],[.0145,-2.77]];
const wd1_fx=[[-.028,-2.77],[-.0187,-.22],[-.0093,1.31],[0,1.82],[.0093,1.31],[.0187,-.22],[.028,-2.77]];
const wd1_fy=[[-.0215,-2.77],[-.0143,-.15],[-.0072,1.42],[0,1.94],[.0072,1.42],[.0143,-.15],[.0215,-2.77]];
const wd1_fz=[[-.007,-2.77],[-.0047,.13],[-.0023,1.87],[0,2.45],[.0023,1.87],[.0047,.13],[.007,-2.77]];
const wd2_fx=[[-.027,-2.77],[-.018,-.21],[-.009,1.33],[0,1.84],[.009,1.33],[.018,-.21],[.027,-2.77]];
const wd2_fy=[[-.0218,-2.77],[-.0145,-.16],[-.0073,1.41],[0,1.93],[.0073,1.41],[.0145,-.16],[.0218,-2.77]];
const wd2_fz=[[-.0086,-2.77],[-.0057,.09],[-.0029,1.8],[0,2.37],[.0029,1.8],[.0057,.09],[.0086,-2.77]];
const wd3_fx=[[-.028,-2.77],[-.0187,-.22],[-.0093,1.31],[0,1.82],[.0093,1.31],[.0187,-.22],[.028,-2.77]];
const wd3_fy=[[-.0225,-2.77],[-.015,-.16],[-.0075,1.4],[0,1.92],[.0075,1.4],[.015,-.16],[.0225,-2.77]];
const wd3_fz=[[-.0142,-2.77],[-.0095,-.05],[-.0047,1.59],[0,2.13],[.0047,1.59],[.0095,-.05],[.0142,-2.77]];
const g10_1_fx=[[-.0234,-2.77],[-.0156,-.18],[-.0078,1.38],[0,1.90],[.0078,1.38],[.0156,-.18],[.0234,-2.77]];
const g10_1_fy=[[-.019,-2.77],[-.0127,-.13],[-.0063,1.46],[0,1.99],[.0063,1.46],[.0127,-.13],[.019,-2.77]];
const g10_1_fz=[[-.0067,-2.77],[-.0045,.14],[-.0022,1.89],[0,2.47],[.0022,1.89],[.0045,.14],[.0067,-2.77]];
const g10_2_fx=[[-.0246,-2.77],[-.0164,-.19],[-.0082,1.35],[0,1.87],[.0082,1.35],[.0164,-.19],[.0246,-2.77]];
const g10_2_fy=[[-.020,-2.77],[-.0133,-.14],[-.0067,1.44],[0,1.97],[.0067,1.44],[.0133,-.14],[.020,-2.77]];
const g10_2_fz=[[-.0105,-2.77],[-.007,.03],[-.0035,1.71],[0,2.27],[.0035,1.71],[.007,.03],[.0105,-2.77]];
const g10_3_fx=[[-.027,-2.77],[-.018,-.21],[-.009,1.32],[0,1.83],[.009,1.32],[.018,-.21],[.027,-2.77]];
const g10_3_fy=[[-.0265,-2.77],[-.0177,-.2],[-.0088,1.33],[0,1.84],[.0088,1.33],[.0177,-.2],[.0265,-2.77]];
const g10_3_fz=[[-.0235,-2.77],[-.0157,-.18],[-.0078,1.38],[0,1.90],[.0078,1.38],[.0157,-.18],[.0235,-2.77]];
const g25_1_fx=[[-.0241,-2.77],[-.0161,-.19],[-.008,1.36],[0,1.88],[.008,1.36],[.0161,-.19],[.0241,-2.77]];
const g25_1_fy=[[-.023,-2.77],[-.0153,-.18],[-.0077,1.38],[0,1.90],[.0077,1.38],[.0153,-.18],[.023,-2.77]];
const g25_1_fz=[[-.0071,-2.77],[-.0047,.13],[-.0024,1.87],[0,2.45],[.0024,1.87],[.0047,.13],[.0071,-2.77]];
const g25_2_fx=[[-.0215,-2.77],[-.0143,-.15],[-.0072,1.42],[0,1.94],[.0072,1.42],[.0143,-.15],[.0215,-2.77]];
const g25_2_fy=[[-.021,-2.77],[-.014,-.15],[-.007,1.43],[0,1.95],[.007,1.43],[.014,-.15],[.021,-2.77]];
const g25_2_fz=[[-.0123,-2.77],[-.0082,-.01],[-.0041,1.64],[0,2.19],[.0041,1.64],[.0082,-.01],[.0123,-2.77]];
const g25_3_fx=[[-.019,-2.77],[-.0127,-.13],[-.0063,1.46],[0,1.99],[.0063,1.46],[.0127,-.13],[.019,-2.77]];
const g25_3_fy=[[-.0185,-2.77],[-.0123,-.12],[-.0062,1.47],[0,2.0],[.0062,1.47],[.0123,-.12],[.0185,-2.77]];
const g25_3_fz=[[-.021,-2.77],[-.014,-.15],[-.007,1.43],[0,1.95],[.007,1.43],[.014,-.15],[.021,-2.77]];
const g50_1_fx=[[-.022,-2.77],[-.0147,-.16],[-.0073,1.4],[0,1.92],[.0073,1.4],[.0147,-.16],[.022,-2.77]];
const g50_1_fy=[[-.018,-2.77],[-.012,-.11],[-.006,1.48],[0,2.01],[.006,1.48],[.012,-.11],[.018,-2.77]];
const g50_1_fz=[[-.006,-2.77],[-.004,.17],[-.002,1.93],[0,2.52],[.002,1.93],[.004,.17],[.006,-2.77]];
const g50_2_fx=[[-.0205,-2.77],[-.0137,-.14],[-.0068,1.43],[0,1.96],[.0068,1.43],[.0137,-.14],[.0205,-2.77]];
const g50_2_fy=[[-.0185,-2.77],[-.0123,-.12],[-.0062,1.47],[0,2.0],[.0062,1.47],[.0123,-.12],[.0185,-2.77]];
const g50_2_fz=[[-.0108,-2.77],[-.0072,.02],[-.0036,1.7],[0,2.26],[.0036,1.7],[.0072,.02],[.0108,-2.77]];
const g50_3_fx=[[-.0184,-2.77],[-.0123,-.11],[-.0061,1.48],[0,2.01],[.0061,1.48],[.0123,-.11],[.0184,-2.77]];
const g50_3_fy=[[-.014,-2.77],[-.0093,-.05],[-.0047,1.59],[0,2.13],[.0047,1.59],[.0093,-.05],[.014,-2.77]];
const g50_3_fz=[[-.0178,-2.77],[-.0119,-.1],[-.0059,1.5],[0,2.03],[.0059,1.5],[.0119,-.1],[.0178,-2.77]];
const g100_1_fx=[[-.028,-2.77],[-.0187,-.22],[-.0093,1.31],[0,1.82],[.0093,1.31],[.0187,-.22],[.028,-2.77]];
const g100_1_fy=[[-.0226,-2.77],[-.0151,-.17],[-.0075,1.39],[0,1.91],[.0075,1.39],[.0151,-.17],[.0226,-2.77]];
const g100_1_fz=[[-.0092,-2.77],[-.0061,.06],[-.0031,1.76],[0,2.33],[.0031,1.76],[.0061,.06],[.0092,-2.77]];
const g100_2_fx=[[-.026,-2.77],[-.0173,-.2],[-.0087,1.34],[0,1.85],[.0087,1.34],[.0173,-.2],[.026,-2.77]];
const g100_2_fy=[[-.0218,-2.77],[-.0145,-.16],[-.0073,1.41],[0,1.93],[.0073,1.41],[.0145,-.16],[.0218,-2.77]];
const g100_2_fz=[[-.0167,-2.77],[-.0111,-.09],[-.0056,1.51],[0,2.05],[.0056,1.51],[.0111,-.09],[.0167,-2.77]];
const g100_3_fx=[[-.0235,-2.77],[-.0157,-.18],[-.0078,1.37],[0,1.89],[.0078,1.37],[.0157,-.18],[.0235,-2.77]];
const g100_3_fy=[[-.019,-2.77],[-.0127,-.13],[-.0063,1.46],[0,1.99],[.0063,1.46],[.0127,-.13],[.019,-2.77]];
const g100_3_fz=[[-.023,-2.77],[-.0153,-.18],[-.0077,1.38],[0,1.90],[.0077,1.38],[.0153,-.18],[.023,-2.77]];

// ---------- table built from the arrays ----------
const panels = [
 [{ux:ws1_ux,uy:ws1_uy,uz:ws1_uz,fx:ws1_fx,fy:ws1_fy,fz:ws1_fz},{ux:ws2_ux,uy:ws2_uy,uz:ws2_uz,fx:ws2_fx,fy:ws2_fy,fz:ws2_fz},{ux:ws3_ux,uy:ws3_uy,uz:ws3_uz,fx:ws3_fx,fy:ws3_fy,fz:ws3_fz}],
 [{ux:wd1_ux,uy:wd1_uy,uz:wd1_uz,fx:wd1_fx,fy:wd1_fy,fz:wd1_fz},{ux:wd2_ux,uy:wd2_uy,uz:wd2_uz,fx:wd2_fx,fy:wd2_fy,fz:wd2_fz},{ux:wd3_ux,uy:wd3_uy,uz:wd3_uz,fx:wd3_fx,fy:wd3_fy,fz:wd3_fz}],
 [{ux:g10_1_ux,uy:g10_1_uy,uz:g10_1_uz,fx:g10_1_fx,fy:g10_1_fy,fz:g10_1_fz},{ux:g10_2_ux,uy:g10_2_uy,uz:g10_2_uz,fx:g10_2_fx,fy:g10_2_fy,fz:g10_2_fz},{ux:g10_3_ux,uy:g10_3_uy,uz:g10_3_uz,fx:g10_3_fx,fy:g10_3_fy,fz:g10_3_fz}],
 [{ux:g25_1_ux,uy:g25_1_uy,uz:g25_1_uz,fx:g25_1_fx,fy:g25_1_fy,fz:g25_1_fz},{ux:g25_2_ux,uy:g25_2_uy,uz:g25_2_uz,fx:g25_2_fx,fy:g25_2_fy,fz:g25_2_fz},{ux:g25_3_ux,uy:g25_3_uy,uz:g25_3_uz,fx:g25_3_fx,fy:g25_3_fy,fz:g25_3_fz}],
 [{ux:g50_1_ux,uy:g50_1_uy,uz:g50_1_uz,fx:g50_1_fx,fy:g50_1_fy,fz:g50_1_fz},{ux:g50_2_ux,uy:g50_2_uy,uz:g50_2_uz,fx:g50_2_fx,fy:g50_2_fy,fz:g50_2_fz},{ux:g50_3_ux,uy:g50_3_uy,uz:g50_3_uz,fx:g50_3_fx,fy:g50_3_fy,fz:g50_3_fz}],
 [{ux:g100_1_ux,uy:g100_1_uy,uz:g100_1_uz,fx:g100_1_fx,fy:g100_1_fy,fz:g100_1_fz},{ux:g100_2_ux,uy:g100_2_uy,uz:g100_2_uz,fx:g100_2_fx,fy:g100_2_fy,fz:g100_2_fz},{ux:g100_3_ux,uy:g100_3_uy,uz:g100_3_uz,fx:g100_3_fx,fy:g100_3_fy,fz:g100_3_fz}]
];

// ---------- layout ----------
const colLeft = [128, 481, 833], panelW = 305;
const rowTop = [123, 367, 611, 840, 1066, 1293], panelH = 194;
const frameColor = "#262626";
const serif = "'Liberation Serif','DejaVu Serif',serif";
const sans = "'Liberation Sans',Arial,sans-serif";

const svg = d3.select("#c");
const defs = svg.append("defs");

const sym = {
  ux: d3.symbol().type(d3.symbolCircle).size(88),
  uy: d3.symbol().type(d3.symbolTriangle).size(62),
  uz: d3.symbol().type(d3.symbolSquare).size(82)
};
const dash = {fx:"8,5", fy:"1.2,3", fz:null};

// composes u′ with a subscript as separate texts (no overlapping glyphs)
function primeLabel(parent, x0, yBase, size, sub, subDrop) {
  const gg = parent.append("g").attr("font-family", serif).attr("fill", "#000");
  gg.append("text").attr("x", x0).attr("y", yBase).attr("font-size", size).attr("font-style", "italic").text("u");
  gg.append("text").attr("x", x0 + size * 0.52).attr("y", yBase - size * 0.42).attr("font-size", size * 0.62).text("′");
  gg.append("text").attr("x", x0 + size * 0.5).attr("y", yBase + (subDrop != null ? subDrop : size * 0.3))
    .attr("font-size", size * 0.66).attr("font-style", "italic").text(sub);
  return gg;
}

rowNames.forEach((rn, r) => {
  colValues.forEach((cv, c) => {
    const P = panels[r][c];
    const col = rowColors[r];
    const x = d3.scaleLinear().domain(xDomain).range([colLeft[c], colLeft[c] + panelW]);
    const y = d3.scaleLog().domain(yDomainExp.map(e => Math.pow(10, e))).range([rowTop[r] + panelH, rowTop[r]]);
    const g = svg.append("g");
    const cid = `clip${r}_${c}`;
    defs.append("clipPath").attr("id", cid).append("rect")
      .attr("x", colLeft[c]).attr("y", rowTop[r]).attr("width", panelW).attr("height", panelH);

    // axis ticks (inward) on all sides
    const tk = (axis) => axis.tickSizeInner(-5).tickSizeOuter(0).tickFormat("");
    const gb = g.append("g").attr("transform", `translate(0,${rowTop[r] + panelH})`).call(tk(d3.axisBottom(x).tickValues(xTicks)));
    const gt = g.append("g").attr("transform", `translate(0,${rowTop[r]})`).call(tk(d3.axisTop(x).tickValues(xTicks)));
    const yv = yTickExp.map(e => Math.pow(10, e));
    const gl = g.append("g").attr("transform", `translate(${colLeft[c]},0)`).call(tk(d3.axisLeft(y).tickValues(yv)));
    const gr = g.append("g").attr("transform", `translate(${colLeft[c] + panelW},0)`).call(tk(d3.axisRight(y).tickValues(yv)));
    [gb, gt, gl, gr].forEach(a => { a.select(".domain").remove(); a.selectAll("line").attr("stroke", frameColor).attr("stroke-width", 1.6); });

    // zero line
    g.append("line").attr("x1", x(0)).attr("x2", x(0)).attr("y1", rowTop[r]).attr("y2", rowTop[r] + panelH)
      .attr("stroke", "#000").attr("stroke-width", 1.3);

    // fitted curves
    const line = d3.line().x(d => x(d[0])).y(d => y(Math.pow(10, d[1]))).curve(d3.curveCatmullRom.alpha(0.5));
    const lg = g.append("g").attr("clip-path", `url(#${cid})`);
    ["fx","fy","fz"].forEach(k => {
      lg.append("path").attr("d", line(P[k])).attr("fill", "none").attr("stroke", col)
        .attr("stroke-width", k === "fy" ? 1.3 : 1.1).attr("stroke-dasharray", dash[k]);
    });

    // frame
    g.append("rect").attr("x", colLeft[c]).attr("y", rowTop[r]).attr("width", panelW).attr("height", panelH)
      .attr("fill", "none").attr("stroke", frameColor).attr("stroke-width", 2.6);

    // markers
    ["ux","uy","uz"].forEach(k => {
      g.append("g").selectAll("path").data(P[k]).join("path")
        .attr("d", sym[k])
        .attr("transform", d => `translate(${x(d[0])},${y(Math.pow(10, d[1])) + (k === "uy" ? 1 : 0)})`)
        .attr("fill", "none").attr("stroke", col).attr("stroke-width", 1.25);
    });

    // y tick labels (first column)
    if (c === 0) {
      yLabelExp.forEach(e => {
        const yy = y(Math.pow(10, e));
        g.append("text").attr("x", colLeft[c] - 20).attr("y", yy + 14)
          .attr("text-anchor", "end").attr("font-family", sans).attr("font-size", 37).attr("fill", frameColor).text("10");
        g.append("text").attr("x", colLeft[c] - 19).attr("y", yy - 3)
          .attr("text-anchor", "start").attr("font-family", sans).attr("font-size", 26).attr("fill", frameColor).text(String(e));
      });
      // row label
      g.append("text").attr("transform", `translate(47,${rowTop[r] + panelH / 2}) rotate(-90)`)
        .attr("text-anchor", "middle").attr("font-family", serif).attr("font-size", 36).attr("fill", "#000").text(rn);
    }
    // x tick labels (bottom row)
    if (r === rowNames.length - 1) {
      xTicks.forEach((v, i) => {
        g.append("text").attr("transform", `translate(${x(v)},1531) scale(0.9,1)`)
          .attr("text-anchor", "middle").attr("font-family", sans).attr("font-size", 37).attr("fill", frameColor).text(xTickLabels[i]);
      });
      const xc = x(0);
      primeLabel(g, xc - 68, 1572, 36, "i", 9);
      g.append("text").attr("x", xc - 21).attr("y", 1572).attr("font-family", serif).attr("font-size", 36)
        .attr("fill", "#000").text("(m/s)");
    }
    // column titles
    if (r === 0) {
      const titleX = [225, 558, 905];
      const tt = g.append("text").attr("x", titleX[c]).attr("y", 102).attr("font-family", serif).attr("font-size", 37).attr("fill", "#000");
      tt.append("tspan").attr("font-style", "italic").text("z");
      tt.append("tspan").attr("dx", 2).text("/");
      tt.append("tspan").attr("font-style", "italic").attr("dx", 2).text("δ");
      tt.append("tspan").attr("font-style", "italic").attr("font-size", 26).attr("dy", 8).text("v");
      tt.append("tspan").attr("dy", -8).attr("dx", 12).text("≃");
      tt.append("tspan").attr("dx", 2).text(cv);
    }
  });
});

// ---------- legend ----------
const legendItems = [
  {k:"ux", sub:"x", dash:"9,5", mx:363},
  {k:"uy", sub:"y", dash:"1.2,3", mx:561},
  {k:"uz", sub:"z", dash:null, mx:755}
];
const lgd = svg.append("g");
legendItems.forEach(it => {
  lgd.append("path").attr("d", sym[it.k]).attr("transform", `translate(${it.mx},${it.k==="uy"?37:36})`)
    .attr("fill", "none").attr("stroke", "#000").attr("stroke-width", 1.25);
  primeLabel(lgd, it.mx + 29, 45, 33, it.sub);
  lgd.append("line").attr("x1", it.mx + 71).attr("x2", it.mx + 121).attr("y1", 37).attr("y2", 37)
    .attr("stroke", "#000").attr("stroke-width", it.k === "uy" ? 1.3 : 1.2).attr("stroke-dasharray", it.dash);
  primeLabel(lgd, it.mx + 123, 45, 33, it.sub);
});
</script>
</body></html>
